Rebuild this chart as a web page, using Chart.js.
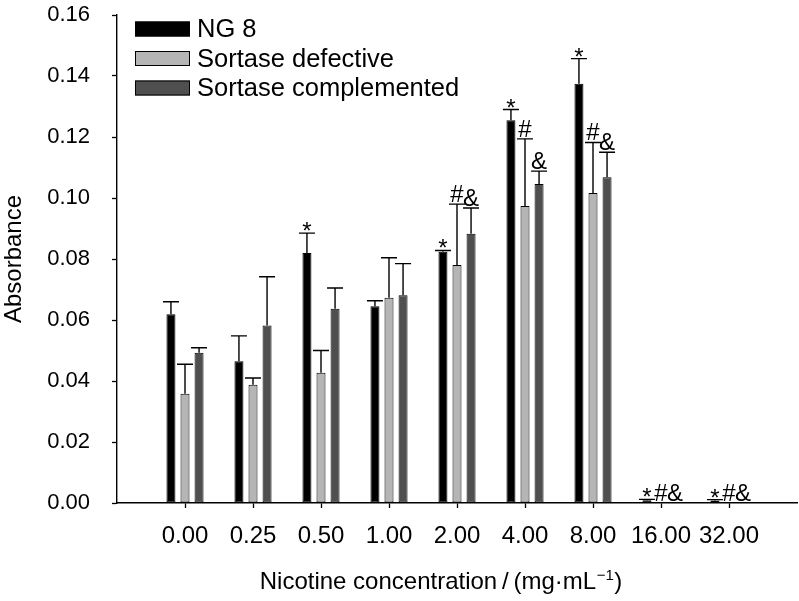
<!DOCTYPE html>
<html>
<head>
<meta charset="utf-8">
<script src="https://cdn.jsdelivr.net/npm/chart.js@4.4.0/dist/chart.umd.min.js"></script>
<style>
  html, body { margin: 0; padding: 0; background: #fff; }
</style>
</head>
<body>
<canvas id="absChart" width="799" height="601"></canvas>
<script>
const concentrations = ['0.00', '0.25', '0.50', '1.00', '2.00', '4.00', '8.00', '16.00', '32.00'];

const ng8 = [0.0619, 0.0465, 0.0820, 0.0645, 0.0824, 0.1255, 0.1375, 0.0009, 0.0008];
const ng8Err = [0.0041, 0.0083, 0.0065, 0.0018, 0.0004, 0.0035, 0.0082, 0.0003, 0.0003];
const ng8Marks = ['', '', '*', '', '*', '*', '*', '*', '*'];

const defective = [0.0358, 0.0388, 0.0427, 0.0673, 0.0780, 0.0974, 0.1016, 0, 0];
const defectiveErr = [0.0097, 0.0022, 0.0073, 0.0131, 0.0200, 0.0220, 0.0166, 0, 0];
const defectiveMarks = ['', '', '', '', '#', '#', '#', '#', '#'];

const complemented = [0.0493, 0.0582, 0.0637, 0.0681, 0.0883, 0.1046, 0.1068, 0, 0];
const complementedErr = [0.0016, 0.0160, 0.0068, 0.0104, 0.0084, 0.0042, 0.0082, 0, 0];
const complementedMarks = ['', '', '', '', '&', '&', '&', '&', '&'];

const yMin = 0;
const yMax = 0.16;
const yStep = 0.02;

const FONT = '"Liberation Sans", Arial, sans-serif';

// one empty slot on each side so the groups sit one step in from the axes
const axisLabels = ['', ...concentrations, ''];
const pad = arr => [null, ...arr, null];

function makeSet(label, values, errs, marks, fill) {
    return {
        label: label,
        data: pad(values),
        err: pad(errs),
        marks: pad(marks),
        backgroundColor: fill,
        borderColor: '#000',
        borderWidth: 1,
        borderSkipped: false,
        categoryPercentage: 0.62,
        barPercentage: 0.64
    };
}

// upper error bars plus the significance marks
const errorBars = {
    id: 'errorBars',
    afterDatasetsDraw(chart) {
        const { ctx } = chart;
        const yScale = chart.scales.y;
        ctx.save();
        ctx.strokeStyle = '#000';
        ctx.fillStyle = '#000';
        ctx.lineWidth = 1.4;
        ctx.font = '24px ' + FONT;
        ctx.textAlign = 'center';
        ctx.textBaseline = 'alphabetic';
        chart.data.datasets.forEach((ds, di) => {
            chart.getDatasetMeta(di).data.forEach((bar, i) => {
                const v = ds.data[i];
                if (v == null) return;
                const e = ds.err[i] || 0;
                const top = yScale.getPixelForValue(v + e);
                if (e > 0) {
                    ctx.beginPath();
                    ctx.moveTo(bar.x, bar.y);
                    ctx.lineTo(bar.x, top);
                    ctx.moveTo(bar.x - 8, top);
                    ctx.lineTo(bar.x + 8, top);
                    ctx.stroke();
                }
                const m = ds.marks[i];
                if (m) {
                    const base = m === '*' ? top + 6 : top - 2;
                    ctx.fillText(m, bar.x, base);
                }
            });
        });
        ctx.restore();
    }
};

const boxLegend = {
    id: 'boxLegend',
    afterDraw(chart) {
        const { ctx, chartArea } = chart;
        ctx.save();
        ctx.font = '25.5px ' + FONT;
        ctx.textBaseline = 'middle';
        ctx.textAlign = 'left';
        chart.data.datasets.forEach((ds, i) => {
            const x = chartArea.left + 18;
            const y = chartArea.top + 14 + i * 29.5;
            ctx.fillStyle = ds.backgroundColor;
            ctx.fillRect(x, y - 7.5, 55, 15);
            ctx.strokeStyle = '#000';
            ctx.lineWidth = 1;
            ctx.strokeRect(x + 0.5, y - 7, 54, 14);
            ctx.fillStyle = '#000';
            ctx.fillText(ds.label, x + 62, y + 1);
        });
        ctx.restore();
    }
};

const xTitle = {
    id: 'xTitle',
    afterDraw(chart) {
        const { ctx, chartArea } = chart;
        const main = 'Nicotine concentration\u2009/\u2009(mg\u00b7mL';
        const sup = '\u22121';
        const tail = ')';
        ctx.save();
        ctx.fillStyle = '#000';
        ctx.textBaseline = 'alphabetic';
        ctx.textAlign = 'left';
        ctx.font = '24px ' + FONT;
        const w1 = ctx.measureText(main).width;
        const w3 = ctx.measureText(tail).width;
        ctx.font = '15px ' + FONT;
        const w2 = ctx.measureText(sup).width;
        const total = w1 + w2 + w3 + 1;
        let x = (chartArea.left + chartArea.right) / 2 - 16 - total / 2;
        const y = chartArea.bottom + 86;
        ctx.font = '24px ' + FONT;
        ctx.fillText(main, x, y);
        x += w1 + 0.5;
        ctx.font = '15px ' + FONT;
        ctx.fillText(sup, x, y - 9);
        x += w2 + 0.5;
        ctx.font = '24px ' + FONT;
        ctx.fillText(tail, x, y);
        ctx.restore();
    }
};

new Chart(document.getElementById('absChart').getContext('2d'), {
    type: 'bar',
    data: {
        labels: axisLabels,
        datasets: [
            makeSet('NG 8', ng8, ng8Err, ng8Marks, '#000000'),
            makeSet('Sortase defective', defective, defectiveErr, defectiveMarks, '#b5b5b5'),
            makeSet('Sortase complemented', complemented, complementedErr, complementedMarks, '#4f4f4f')
        ]
    },
    options: {
        responsive: false,
        animation: false,
        layout: { padding: { top: 15, right: 2, bottom: 0, left: 0 } },
        plugins: {
            legend: { display: false },
            tooltip: { enabled: false }
        },
        scales: {
            x: {
                offset: false,
                ticks: {
                    autoSkip: false,
                    maxRotation: 0,
                    color: '#000',
                    padding: 14,
                    font: { family: FONT, size: 24 }
                },
                grid: {
                    offset: false,
                    drawOnChartArea: false,
                    tickLength: 5,
                    tickWidth: 1.3,
                    tickColor: (c) => axisLabels[c.index] ? '#000' : 'rgba(0,0,0,0)'
                },
                border: { color: '#000', width: 1.4 },
                afterFit(scale) {
                    scale.height = 98;
                    scale.paddingLeft = 0;
                    scale.paddingRight = 0;
                }
            },
            y: {
                min: yMin,
                max: yMax,
                ticks: {
                    stepSize: yStep,
                    color: '#000',
                    padding: 22,
                    font: { family: FONT, size: 22 },
                    callback: (v) => v.toFixed(2)
                },
                grid: {
                    drawOnChartArea: false,
                    tickLength: 5,
                    tickWidth: 1.3,
                    tickColor: '#000'
                },
                border: { color: '#000', width: 1.4 },
                title: {
                    display: true,
                    text: 'Absorbance',
                    color: '#000',
                    padding: 0,
                    font: { family: FONT, size: 24 }
                },
                afterFit(scale) {
                    scale.width = 117;
                    scale.paddingTop = 0;
                    scale.paddingBottom = 0;
                }
            }
        }
    },
    plugins: [errorBars, boxLegend, xTitle]
});
</script>
</body>
</html>
